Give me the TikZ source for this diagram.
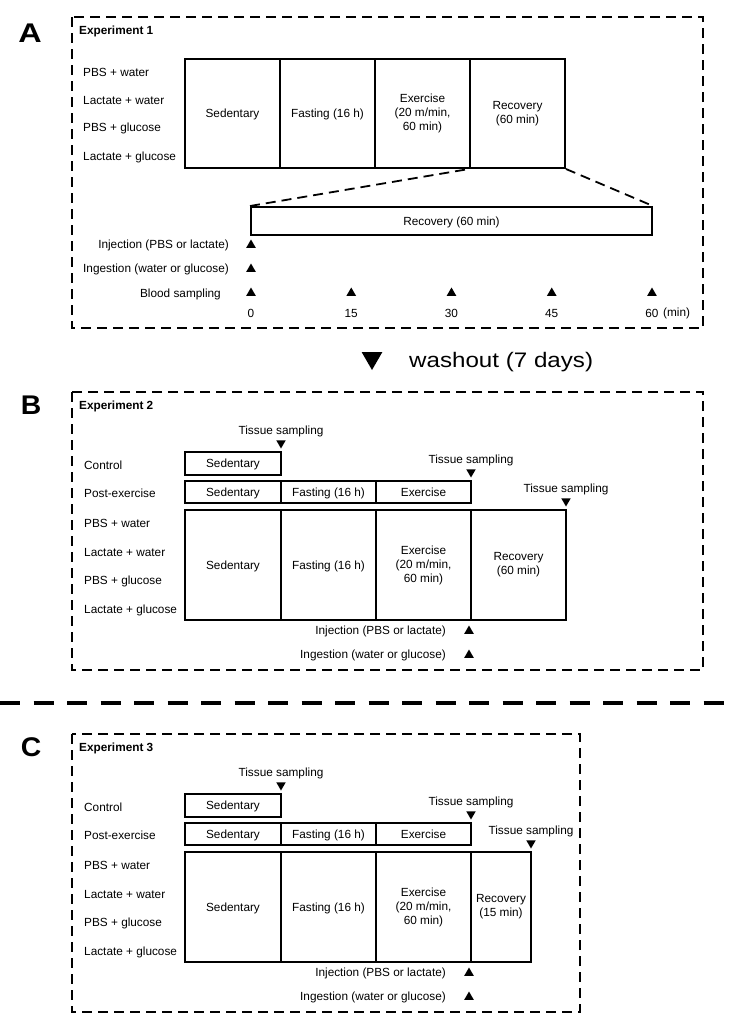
\documentclass[tikz,border=0pt]{standalone}
\usepackage{fontspec}
\setmainfont{Liberation Sans}
\usetikzlibrary{shapes.geometric}

\newcommand{\lab}{\fontsize{11.8}{14}\selectfont}

\begin{document}
\begin{tikzpicture}[x=1pt, y=-1pt,
    frame/.style={line width=1.8pt, dash pattern=on 10pt off 6pt},
    cell/.style={draw, line width=2pt, inner sep=0pt, align=center, font=\lab},
    oneline/.style={cell, text height=9pt, text depth=0.6pt},
    lab/.style={font=\lab, inner sep=0pt},
    uptri/.style={regular polygon, regular polygon sides=3, fill, inner sep=0pt, minimum size=11pt},
    downtri/.style={uptri, shape border rotate=180},
    panel/.style={font=\fontsize{27}{30}\selectfont\bfseries, inner sep=0pt},
    title/.style={font=\lab\bfseries, anchor=west, inner sep=0pt}]
    \useasboundingbox (0,0) rectangle (731,1015);

    % Experiment 1
    \node[panel] (A) at (30,33) {\scalebox{1.2}[1]{A}};
    \draw[frame] (72,17) rectangle (703,328);
    \node[title] (exp1) at (79,31) {Experiment 1};
    \node[lab, anchor=west] (a1) at (83,72) {PBS + water};
    \node[lab, anchor=west] (a2) at (83,100) {Lactate + water};
    \node[lab, anchor=west] (a3) at (83,128) {PBS + glucose};
    \node[lab, anchor=west] (a4) at (83,157) {Lactate + glucose};
    \node[oneline, minimum width=95pt, minimum height=109pt] (aSed) at (232.5,113.5) {Sedentary};
    \node[oneline, minimum width=95pt, minimum height=109pt] (aFast) at (327.5,113.5) {Fasting (16 h)};
    \node[cell, minimum width=95pt, minimum height=109pt] (aEx) at (422.5,113.5) {Exercise\\(20 m/min,\\60 min)};
    \node[cell, minimum width=95pt, minimum height=109pt] (aRec) at (517.5,113.5) {Recovery\\(60 min)};
    \node[oneline, minimum width=401pt, minimum height=28pt] (aZoom) at (451.5,221) {Recovery (60 min)};
    \draw[frame] (aZoom.north west) -- (aRec.south west);
    \draw[frame] (aRec.south east) -- (aZoom.north east);
    \node[uptri] (aInj) at (251,245) {};
    \node[lab, anchor=east] (aInjL) at (229,245) {Injection (PBS or lactate)};
    \node[uptri] (aIng) at (251,269) {};
    \node[lab, anchor=east] (aIngL) at (229,269) {Ingestion (water or glucose)};
    \node[lab, anchor=east] (aBloodL) at (221,294) {Blood sampling};
    \foreach \t [count=\i] in {0,15,30,45,60} {
        \node[uptri] (blood\i) at (251+\t*6.683,293) {};
        \node[lab] (min\i) at (251+\t*6.683,313) {\t};
    }
    \node[lab, anchor=west] (unit) at (663,313) {(min)};

    \node[downtri, minimum size=24pt] (washTri) at (372,358) {};
    \node[anchor=base west, inner sep=0pt, font=\fontsize{21}{25}\selectfont] (wash) at (409,367) {\scalebox{1.15}[1]{washout (7 days)}};

    % Experiments 2 and 3
    \foreach \p/\n/\dy/\re/\rt/\fr in {B/2/0/566/{Recovery\\(60 min)}/703, C/3/342/531/{Recovery\\(15 min)}/580} {
        \node[panel] (\p) at (31,405+\dy) {\scalebox{1.05}[1]{\p}};
        \draw[frame] (72,392+\dy) rectangle (\fr,670+\dy);
        \node[title] (exp\n) at (79,406+\dy) {Experiment \n};
        \node[lab, anchor=west] (\p l1) at (84,465+\dy) {Control};
        \node[lab, anchor=west] (\p l2) at (84,493+\dy) {Post-exercise};
        \node[lab, anchor=west] (\p l3) at (84,523+\dy) {PBS + water};
        \node[lab, anchor=west] (\p l4) at (84,552+\dy) {Lactate + water};
        \node[lab, anchor=west] (\p l5) at (84,581+\dy) {PBS + glucose};
        \node[lab, anchor=west] (\p l6) at (84,610+\dy) {Lactate + glucose};
        \node[oneline, minimum width=96pt, minimum height=23pt] (\p ctl) at (233,463.5+\dy) {Sedentary};
        \node[oneline, minimum width=96pt, minimum height=22pt] (\p pSed) at (233,492+\dy) {Sedentary};
        \node[oneline, minimum width=95pt, minimum height=22pt] (\p pFast) at (328.5,492+\dy) {Fasting (16 h)};
        \node[oneline, minimum width=95pt, minimum height=22pt] (\p pEx) at (423.5,492+\dy) {Exercise};
        \node[oneline, minimum width=96pt, minimum height=110pt] (\p Sed) at (233,565+\dy) {Sedentary};
        \node[oneline, minimum width=95pt, minimum height=110pt] (\p Fast) at (328.5,565+\dy) {Fasting (16 h)};
        \node[cell, minimum width=95pt, minimum height=110pt] (\p Ex) at (423.5,565+\dy) {Exercise\\(20 m/min,\\60 min)};
        \node[cell, minimum width={(\re-471)*1pt}, minimum height=110pt] (\p Rec) at ({(471+\re)/2},565+\dy) {\rt};
        \node[downtri] (\p t1) at (281,443+\dy) {};
        \node[lab] (\p s1) at (281,431+\dy) {Tissue sampling};
        \node[downtri] (\p t2) at (471,472+\dy) {};
        \node[lab] (\p s2) at (471,460+\dy) {Tissue sampling};
        \node[downtri] (\p t3) at (\re,501+\dy) {};
        \node[lab] (\p s3) at (\re,489+\dy) {Tissue sampling};
        \node[uptri] (\p inj) at (469,631+\dy) {};
        \node[lab, anchor=east] (\p injL) at (446,631+\dy) {Injection (PBS or lactate)};
        \node[uptri] (\p ing) at (469,655+\dy) {};
        \node[lab, anchor=east] (\p ingL) at (446,655+\dy) {Ingestion (water or glucose)};
    }

    \draw[line width=4pt, dash pattern=on 20pt off 13.5pt] (0,703) -- (731,703);
\end{tikzpicture}
\end{document}
